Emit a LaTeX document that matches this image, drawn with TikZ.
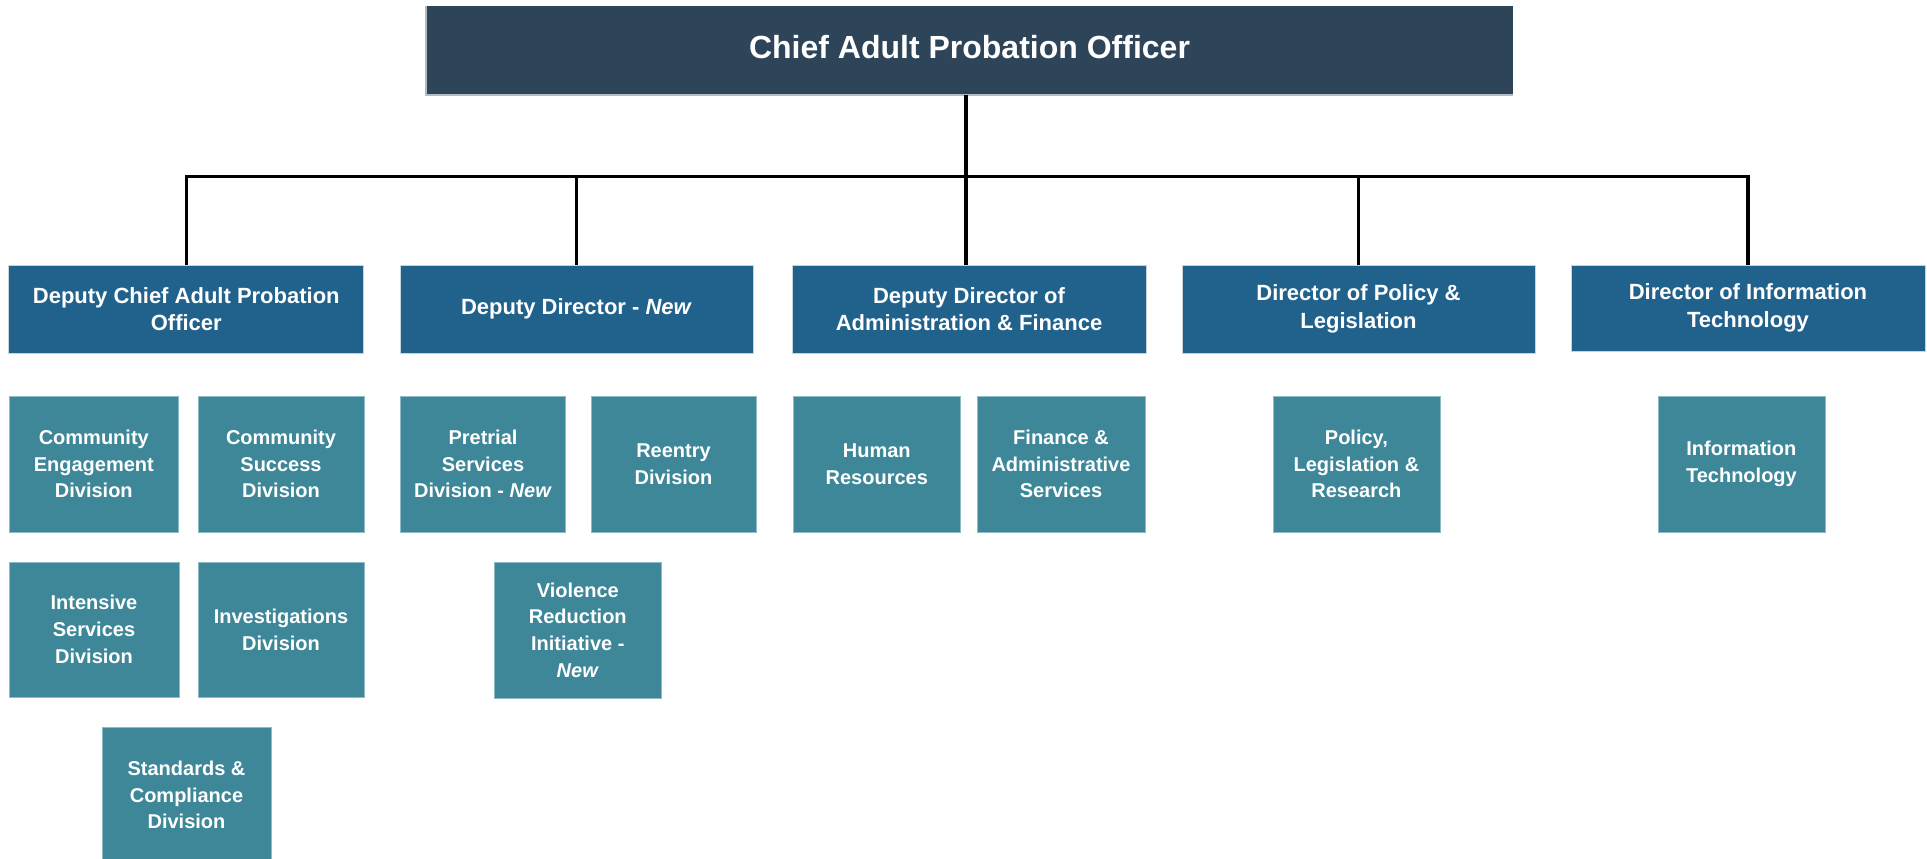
\documentclass[tikz,border=0pt]{standalone}
\usepackage{fontspec}
\setmainfont{Liberation Sans}
\definecolor{chiefc}{HTML}{2E4459}
\definecolor{levtwo}{HTML}{21628C}
\definecolor{levthree}{HTML}{3D8799}
\definecolor{edgetwo}{HTML}{C9D3DC}
\definecolor{edgethree}{HTML}{8FBBC7}
\definecolor{edgechief}{HTML}{B5BBC2}
\tikzset{
  chiefbox/.style={fill=chiefc, text=white, inner sep=0pt, align=center,
    font=\fontsize{32}{38}\selectfont\bfseries},
  dirbox/.style={fill=levtwo, draw=edgetwo, line width=0.8pt, text=white, inner sep=0pt, align=center,
    minimum height=88pt, font=\fontsize{22}{27.7}\selectfont\bfseries},
  divbox/.style={fill=levthree, draw=edgethree, line width=0.8pt, text=white, inner sep=0pt, align=center,
    minimum height=136pt, font=\fontsize{20}{26.7}\selectfont\bfseries},
  link/.style={draw=black, line width=3.5pt}
}
\begin{document}
\begin{tikzpicture}[x=1pt,y=-1pt]
\clip (0,0) rectangle (1927,859);
\fill[white] (0,0) rectangle (1927,859);
% chief
\node[chiefbox, minimum width=1087pt, minimum height=89pt] (chief) at (969.5,50.5) {};
\node[chiefbox] (chieftext) at (969.5,47.5) {Chief Adult Probation Officer};
\draw[edgechief, line width=2pt] (chief.north west) -- (chief.south west) -- (chief.south east);
% directors
\node[dirbox, minimum width=355pt] (d1) at (186.3,309) {Deputy Chief Adult Probation\\Officer};
\node[dirbox, minimum width=353pt] (d2) at (576.5,309) {Deputy Director - \textit{New}};
\node[dirbox, minimum width=354pt] (d3) at (969,309) {Deputy Director of\\Administration \& Finance};
\node[dirbox, minimum width=353pt] (d4) at (1358.5,309) {Director of Policy \&\\Legislation};
\node[dirbox, minimum width=354pt, minimum height=86pt] (d5) at (1748,308) {Director of Information\\Technology};
% connectors
\coordinate (bus) at (966,176.5);
\draw[link] (chief.south -| bus) -- (bus);
\draw[link, line cap=rect] (d1.north |- bus) -- (d5.north |- bus);
\foreach \n in {d1,d2,d4,d5} {\draw[link] (\n.north |- bus) -- (\n.north);}
\draw[link] (bus) -- (bus |- d3.north);
% divisions
\node[divbox, minimum width=169.6pt] (ce) at (93.8,464) {Community\\Engagement\\Division};
\node[divbox, minimum width=166pt] (cs) at (281,464) {Community\\Success\\Division};
\node[divbox, minimum width=165pt] (ps) at (483,464) {Pretrial\\Services\\Division - \textit{New}};
\node[divbox, minimum width=165pt] (re) at (673.5,464) {Reentry\\Division};
\node[divbox, minimum width=167.6pt] (hr) at (876.8,464) {Human\\Resources};
\node[divbox, minimum width=168pt] (fa) at (1061,464) {Finance \&\\Administrative\\Services};
\node[divbox, minimum width=167pt] (pl) at (1356.4,464) {Policy,\\Legislation \&\\Research};
\node[divbox, minimum width=167pt] (it) at (1741.4,464) {Information\\Technology};
\node[divbox, minimum width=170pt, minimum height=135pt] (is) at (94,629.5) {Intensive\\Services\\Division};
\node[divbox, minimum width=166pt, minimum height=135pt] (iv) at (281,629.5) {Investigations\\Division};
\node[divbox, minimum width=166.4pt] (vr) at (577.8,630) {Violence\\Reduction\\Initiative -\\\textit{New}};
\node[divbox, minimum width=169pt] (sc) at (186.5,795) {Standards \&\\Compliance\\Division};
\end{tikzpicture}
\end{document}
